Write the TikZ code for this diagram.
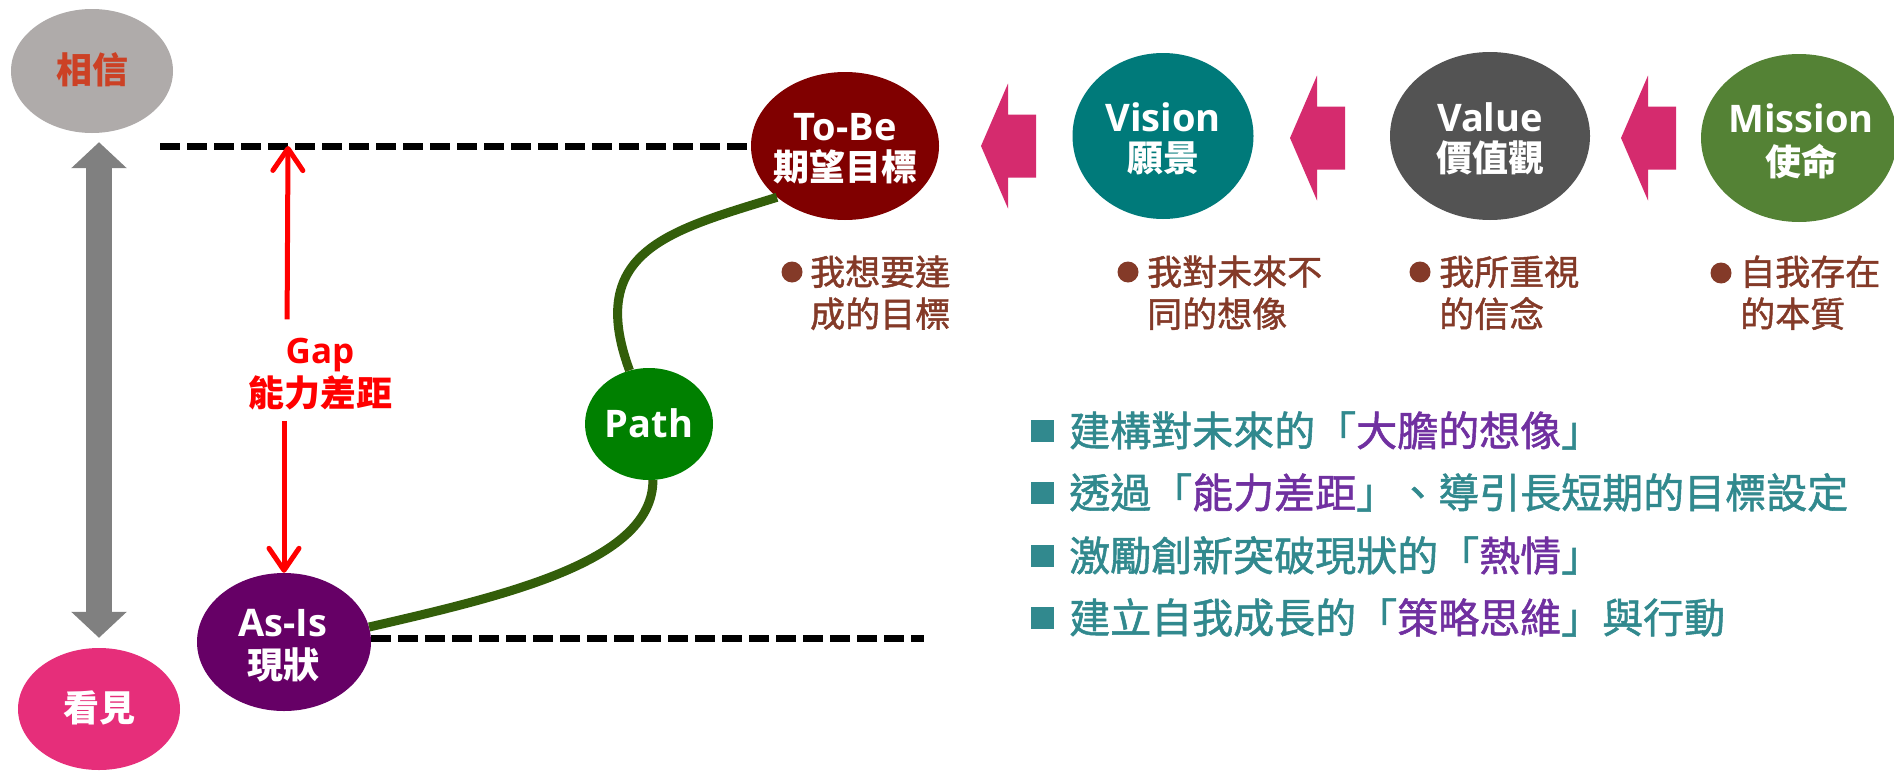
\documentclass[tikz,border=0pt]{standalone}
\usepackage{fontspec}
\setmainfont{Noto Sans CJK TC}
\newfontfamily\latf{Open Sans}
\newfontfamily\cjkmed[FakeBold=1.3]{Noto Sans CJK TC}
\usetikzlibrary{arrows.meta,shapes.geometric}
\definecolor{xiangc}{RGB}{175,171,170}
\definecolor{xiangt}{RGB}{204,65,37}
\definecolor{kanc}{RGB}{230,46,122}
\definecolor{tobec}{RGB}{128,0,0}
\definecolor{pathc}{RGB}{0,128,0}
\definecolor{asisc}{RGB}{102,0,102}
\definecolor{visc}{RGB}{0,122,122}
\definecolor{valc}{RGB}{83,83,83}
\definecolor{misc}{RGB}{84,130,53}
\definecolor{pinkc}{RGB}{213,43,110}
\definecolor{greenlc}{RGB}{51,94,10}
\definecolor{grayc}{RGB}{128,128,128}
\definecolor{brownc}{RGB}{132,58,40}
\definecolor{tealc}{RGB}{49,137,142}
\definecolor{purpc}{RGB}{112,48,160}
\definecolor{redc}{RGB}{255,0,0}
\begin{document}
\begin{tikzpicture}[x=1pt,y=-1pt,
  bub/.style={ellipse, draw=none, inner sep=0pt},
  cw/.style={anchor=base, inner sep=0pt, text=white, font=\fontsize{36}{40}\selectfont\bfseries},
  lw/.style={anchor=base, inner sep=0pt, text=white, font=\latf\fontsize{38}{42}\selectfont\bfseries},
  btxt/.style={anchor=base west, inner sep=0pt, text=brownc, font=\cjkmed\fontsize{35}{40}\selectfont},
  ltxt/.style={anchor=base west, inner sep=0pt, text=tealc, font=\cjkmed\fontsize{41}{44}\selectfont},
  dot/.style={circle, fill=brownc, inner sep=0pt, minimum size=21pt},
  sq/.style={rectangle, fill=tealc, inner sep=0pt, minimum width=23pt, minimum height=22pt},
  dashl/.style={line width=7pt, dash pattern=on 20pt off 7pt, black},
  greenl/.style={line width=9pt, greenlc},
  redarr/.style={line width=5pt, redc, -{Straight Barb[length=22pt,width=30pt,round]}},
  grayarr/.style={line width=26pt, grayc, {Triangle[length=26pt,width=54pt]}-{Triangle[length=26pt,width=54pt]}},
  pinkarr/.pic={\fill[pinkc] (0,0) -- (27,-62.5) -- (27,-31.5) -- (55,-31.5) -- (55,31.5) -- (27,31.5) -- (27,62.5) -- cycle;}
]
\fill[white] (0,0) rectangle (1894,771);
\useasboundingbox (0,0) rectangle (1894,771);

% ellipses
\node[bub, fill=xiangc, minimum width=162pt, minimum height=124pt] (xiangxin) at (92,71) {};
\node[bub, fill=kanc, minimum width=162pt, minimum height=122pt] (kanjian) at (99,709) {};
\node[bub, fill=tobec, minimum width=188pt, minimum height=148pt] (tobe) at (845,146) {};
\node[bub, fill=visc, minimum width=181pt, minimum height=166pt] (vision) at (1163,136) {};
\node[bub, fill=valc, minimum width=200pt, minimum height=168pt] (value) at (1490,136) {};
\node[bub, fill=misc, minimum width=196pt, minimum height=168pt] (mission) at (1799,138) {};
\node[bub, fill=pathc, minimum width=128pt, minimum height=112pt] (path) at (649,424) {};
\node[bub, fill=asisc, minimum width=174pt, minimum height=138pt] (asis) at (284,642) {};

% ellipse texts
\node[cw, text=xiangt] (xiangxinT) at (92,83) {相信};
\node[cw] (kanjianT) at (99,721) {看見};
\node[lw] (tobeT1) at (845,140) {To-Be};
\node[cw] (tobeT2) at (845,180) {期望目標};
\node[lw] (visionT1) at (1163,131) {Vision};
\node[cw] (visionT2) at (1163,171) {願景};
\node[lw] (valueT1) at (1490,131) {Value};
\node[cw] (valueT2) at (1490,171) {價值觀};
\node[lw] (missionT1) at (1801,132) {Mission};
\node[cw] (missionT2) at (1801,175) {使命};
\node[lw] (asisT1) at (283,636) {As-Is};
\node[cw] (asisT2) at (283,678) {現狀};
\node[lw] (pathT) at (649,437) {Path};

% gap label
\node[anchor=base, inner sep=0pt, text=redc, font=\latf\fontsize{35}{40}\selectfont\bfseries] (gap1) at (320,363) {Gap};
\node[anchor=base, inner sep=0pt, text=redc, font=\fontsize{36}{40}\selectfont\bfseries] (gap2) at (320,406) {能力差距};

% dashed lines
\coordinate (dashL) at (160,146);
\coordinate (dashR) at (924,638);
\draw[dashl] (dashL) -- (tobe.west);
\draw[dashl] (asis.east |- dashR) -- (dashR);

% gray double arrow
\draw[grayarr, shorten <=9pt, shorten >=10pt] (xiangxin.south -| kanjian.north) -- (kanjian.north);

% red arrows
\draw[redarr, shorten <=18pt] ([xshift=3pt]asis.north |- gap1.north) -- ([xshift=4pt]asis.north |- dashL);
\draw[redarr, shorten <=11pt] (asis.north |- gap2.south) -- (asis.north);

% green path
\draw[greenl] (path.110) .. controls (585,250) and (672,230) .. (tobe.217);
\draw[greenl] (path.-86) .. controls (653,560) and (513,594) .. (asis.10);

% pink block arrows
\pic at (981,146) {pinkarr};
\pic at (1290,138) {pinkarr};
\pic at (1621,138) {pinkarr};

% brown bullet texts
\node[dot] (d1) at (792,272) {};
\node[btxt] (b1a) at (810,285) {我想要達};
\node[btxt] (b1b) at (810,327) {成的目標};
\node[dot] (d2) at (1128,272) {};
\node[btxt] (b2a) at (1147,285) {我對未來不};
\node[btxt] (b2b) at (1147,327) {同的想像};
\node[dot] (d3) at (1420,272) {};
\node[btxt] (b3a) at (1439,285) {我所重視};
\node[btxt] (b3b) at (1439,327) {的信念};
\node[dot] (d4) at (1721,273) {};
\node[btxt] (b4a) at (1740,285) {自我存在};
\node[btxt] (b4b) at (1740,327) {的本質};

% list
\node[sq] (s1) at (1042.5,431) {};
\node[sq] (s2) at (1042.5,493) {};
\node[sq] (s3) at (1042.5,556) {};
\node[sq] (s4) at (1042.5,618) {};
\node[ltxt] (l1) at (1069,446) {建構對未來的「\textcolor{purpc}{大膽的想像}」};
\node[ltxt] (l2) at (1069,508) {透過「\textcolor{purpc}{能力差距}」、導引長短期的目標設定};
\node[ltxt] (l3) at (1069,571) {激勵創新突破現狀的「\textcolor{purpc}{熱情}」};
\node[ltxt] (l4) at (1069,633) {建立自我成長的「\textcolor{purpc}{策略思維}」與行動};
\end{tikzpicture}
\end{document}
